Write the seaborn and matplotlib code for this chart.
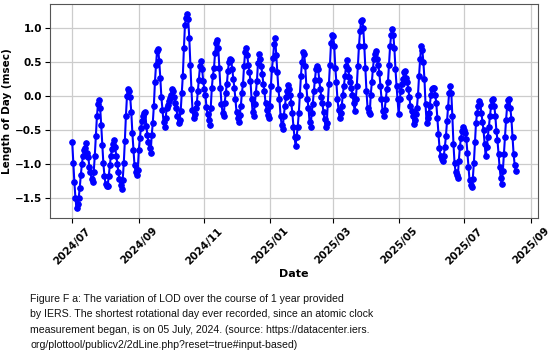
import numpy as np
import pandas as pd
import seaborn as sns
import matplotlib.pyplot as plt
import matplotlib.dates as mdates

# daily LOD values (msec), one list per month
jul_2024 = [-0.68, -0.99, -1.27, -1.50, -1.65, -1.58, -1.50, -1.35, -1.16, -1.00, -0.88, -0.80, -0.76, -0.69, -0.83, -0.90,
            -1.05, -1.12, -1.22, -1.26, -1.12, -0.88, -0.59, -0.30, -0.12, -0.06, -0.17, -0.43, -0.72, -0.99, -1.17]
aug_2024 = [-1.29, -1.32, -1.32, -1.17, -1.02, -0.88, -0.78, -0.70, -0.64, -0.75, -0.88, -1.00, -1.12, -1.22, -1.30, -1.37,
            -1.23, -0.99, -0.66, -0.29, 0.00, 0.11, 0.08, -0.02, -0.24, -0.54, -0.79, -1.02, -1.12, -1.16, -1.08]
sep_2024 = [-0.80, -0.62, -0.47, -0.36, -0.29, -0.25, -0.23, -0.44, -0.58, -0.68, -0.76, -0.84, -0.58, -0.40, -0.15, 0.20,
            0.45, 0.66, 0.69, 0.52, 0.27, -0.01, -0.20, -0.38, -0.46, -0.32, -0.18, -0.13, -0.08, -0.03]
oct_2024 = [0.02, 0.10, 0.07, -0.02, -0.10, -0.18, -0.30, -0.39, -0.35, -0.22, 0.05, 0.30, 0.70, 1.05, 1.15, 1.21,
            1.13, 0.85, 0.46, 0.10, -0.20, -0.32, -0.27, -0.18, -0.11, 0.07, 0.24, 0.44, 0.52, 0.39, 0.22]
nov_2024 = [0.10, 0.02, -0.16, -0.27, -0.35, -0.43, -0.17, 0.12, 0.30, 0.41, 0.63, 0.78, 0.82, 0.71, 0.41, 0.12,
            -0.12, -0.25, -0.30, -0.10, 0.05, 0.17, 0.37, 0.50, 0.54, 0.53, 0.40, 0.25, 0.12, -0.05]
dec_2024 = [-0.24, -0.32, -0.38, -0.28, -0.15, 0.05, 0.17, 0.44, 0.64, 0.71, 0.60, 0.45, 0.35, 0.22, -0.04, -0.24,
            -0.30, -0.12, 0.05, 0.22, 0.49, 0.61, 0.54, 0.44, 0.32, 0.18, 0.07, -0.10, -0.20, -0.28, -0.32]
jan_2025 = [-0.15, 0.15, 0.40, 0.56, 0.76, 0.85, 0.60, 0.35, 0.10, -0.05, -0.29, -0.42, -0.49, -0.29, -0.15, -0.02,
            0.08, 0.16, 0.10, 0.02, -0.10, -0.25, -0.45, -0.60, -0.73, -0.60, -0.45, -0.25, 0.02, 0.30, 0.50]
feb_2025 = [0.64, 0.62, 0.44, 0.15, -0.05, -0.17, -0.38, -0.46, -0.25, -0.12, 0.07, 0.24, 0.39, 0.44, 0.40, 0.24,
            0.10, -0.02, -0.11, -0.24, -0.34, -0.45, -0.40, -0.12, 0.17, 0.46, 0.78, 0.90]
mar_2025 = [0.88, 0.73, 0.41, 0.20, -0.05, -0.20, -0.32, -0.25, -0.14, 0.02, 0.15, 0.30, 0.44, 0.53, 0.40, 0.28,
            0.20, 0.12, 0.02, -0.10, -0.22, -0.05, 0.15, 0.44, 0.73, 0.95, 1.10, 1.12, 1.00, 0.73, 0.41]
apr_2025 = [0.07, -0.17, -0.24, -0.27, 0.02, 0.20, 0.40, 0.55, 0.62, 0.66, 0.55, 0.45, 0.34, 0.15, -0.05, -0.22,
            -0.29, -0.20, -0.05, 0.10, 0.20, 0.46, 0.73, 0.90, 0.99, 0.90, 0.70, 0.40, 0.15, -0.05]
may_2025 = [-0.27, -0.05, 0.08, 0.17, 0.25, 0.35, 0.37, 0.27, 0.20, 0.10, -0.02, -0.15, -0.22, -0.30, -0.41, -0.35,
            -0.27, -0.17, 0.02, 0.30, 0.55, 0.74, 0.68, 0.50, 0.25, -0.12, -0.39, -0.33, -0.25, -0.14, 0.02]
jun_2025 = [0.10, 0.12, 0.12, 0.02, -0.10, -0.32, -0.56, -0.76, -0.88, -0.93, -0.95, -0.88, -0.75, -0.59, -0.37, -0.16,
            0.05, 0.14, 0.05, -0.30, -0.70, -0.98, -1.12, -1.16, -1.20, -0.95, -0.75, -0.62, -0.52, -0.46]
jul_2025 = [-0.50, -0.55, -0.63, -0.83, -1.05, -1.24, -1.30, -1.34, -1.22, -0.99, -0.68, -0.40, -0.25, -0.15, -0.07, -0.12,
            -0.25, -0.38, -0.50, -0.70, -0.88, -0.75, -0.60, -0.45, -0.29, -0.15, -0.06, -0.04, -0.14, -0.29, -0.51]
aug_2025 = [-0.65, -0.85, -1.05, -1.20, -1.29, -1.10, -0.85, -0.60, -0.35, -0.15, -0.06, -0.04, -0.18, -0.34, -0.60, -0.85,
            -1.01, -1.10]

lod = (jul_2024 + aug_2024 + sep_2024 + oct_2024 + nov_2024 + dec_2024 + jan_2025 + feb_2025
       + mar_2025 + apr_2025 + may_2025 + jun_2025 + jul_2025 + aug_2025)
dates = pd.date_range("2024-07-01", periods=len(lod), freq="D")
df = pd.DataFrame({"Date": dates, "LOD": lod})

caption = ("Figure F a: The variation of LOD over the course of 1 year provided\n"
           "by IERS. The shortest rotational day ever recorded, since an atomic clock\n"
           "measurement began, is on 05 July, 2024. (source: https://datacenter.iers.\n"
           "org/plottool/publicv2/2dLine.php?reset=true#input-based)")

fig = plt.figure(figsize=(5.5, 3.54), dpi=100)
ax = fig.add_axes([0.091, 0.384, 0.887, 0.605])
sns.lineplot(data=df, x="Date", y="LOD", marker="o", color="blue", markersize=4,
             markeredgecolor="blue", linewidth=1.5, ax=ax)

ax.grid(True, color="#cccccc", linewidth=0.9)
ax.set_axisbelow(True)
ax.xaxis.set_major_locator(mdates.MonthLocator(bymonth=[1, 3, 5, 7, 9, 11]))
ax.xaxis.set_major_formatter(mdates.DateFormatter("%Y/%m"))
ax.set_yticks([-1.5, -1.0, -0.5, 0.0, 0.5, 1.0])
ax.tick_params(axis="both", labelsize=7.5, pad=2)
for lbl in ax.get_xticklabels():
    lbl.set_rotation(45)
    lbl.set_fontweight("bold")
for lbl in ax.get_yticklabels():
    lbl.set_fontweight("bold")
ax.set_xlabel("Date", fontsize=8, fontweight="bold", labelpad=2)
ax.set_ylabel("Length of Day (msec)", fontsize=7.5, fontweight="bold", labelpad=2)
for s in ax.spines.values():
    s.set_color("#555555")

fig.text(0.055, 0.09, caption, fontsize=7.6, va="center", ha="left", linespacing=1.68,
         family=["Liberation Sans", "DejaVu Sans"], color="#111111")

fig.savefig("out.png", dpi=100)
